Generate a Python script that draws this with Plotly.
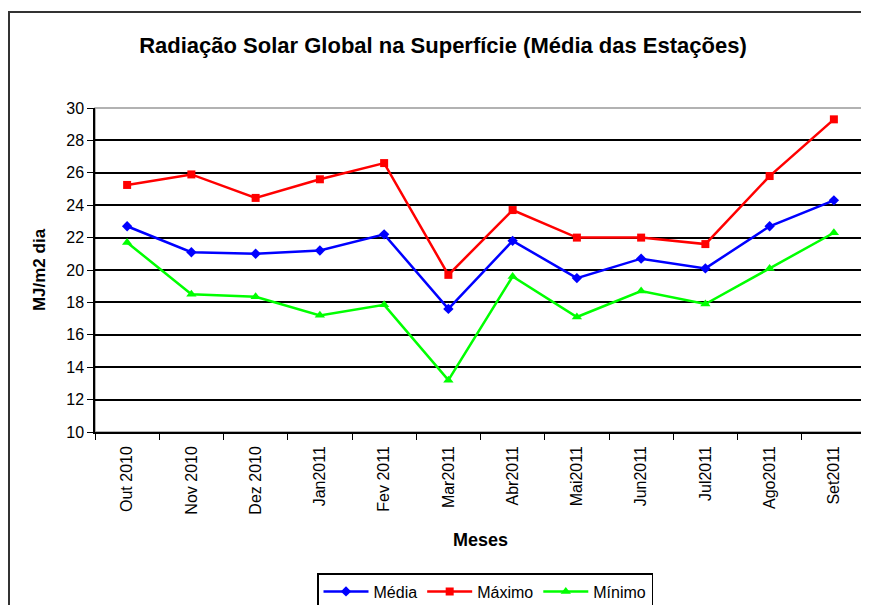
import plotly.graph_objects as go

# Monthly categories
meses = ["Out 2010", "Nov 2010", "Dez 2010", "Jan2011", "Fev 2011", "Mar2011",
         "Abr2011", "Mai2011", "Jun2011", "Jul2011", "Ago2011", "Set2011"]

# MJ/m2 dia
media = [22.7, 21.1, 21.0, 21.2, 22.2, 17.6, 21.8, 19.5, 20.7, 20.1, 22.7, 24.3]
maximo = [25.25, 25.9, 24.45, 25.6, 26.6, 19.7, 23.7, 22.0, 22.0, 21.6, 25.8, 29.3]
minimo = [21.7, 18.5, 18.35, 17.2, 17.85, 13.2, 19.6, 17.1, 18.7, 17.9, 20.1, 22.3]

FONT = "Arial, Liberation Sans, sans-serif"

# the page body adds an 8px offset, so the layout is shifted to compensate
L, T, R, B = 87, 100, 11, 181
PW, PH = 869 - L - R, 605 - T - B

fig = go.Figure()

fig.add_trace(go.Scatter(
    x=meses, y=media, name="Média", mode="lines+markers",
    line=dict(color="#0000ff", width=2.5),
    marker=dict(symbol="diamond", size=8, color="#0000ff"),
))
fig.add_trace(go.Scatter(
    x=meses, y=maximo, name="Máximo", mode="lines+markers",
    line=dict(color="#ff0000", width=2.5),
    marker=dict(symbol="square", size=8, color="#ff0000"),
))
fig.add_trace(go.Scatter(
    x=meses, y=minimo, name="Mínimo", mode="lines+markers",
    line=dict(color="#00ff00", width=2.5),
    marker=dict(symbol="triangle-up", size=9, color="#00ff00"),
))

fig.update_layout(
    width=869, height=605,
    paper_bgcolor="white", plot_bgcolor="white",
    font=dict(family=FONT, size=14, color="black"),
    margin=dict(l=L, r=R, t=T, b=B, autoexpand=False),
    title=dict(
        text="<b>Radiação Solar Global na Superfície (Média das Estações)</b>",
        x=(435 - L) / PW, xref="paper", xanchor="center",
        y=1 - 37 / 605, yanchor="middle",
        font=dict(size=22, family=FONT),
    ),
    showlegend=True,
    legend=dict(
        orientation="h", x=(477 - L) / PW, xanchor="center",
        y=(PH + T - 565) / PH, yanchor="top",
        bordercolor="black", borderwidth=1.5, font=dict(size=16),
        itemwidth=45, tracegroupgap=0,
    ),
    xaxis=dict(
        title=dict(text="<b>Meses</b>", font=dict(size=18), standoff=20),
        range=[-0.5, len(meses) - 0.5],
        tickangle=-90, tickson="boundaries", ticks="outside", ticklen=6,
        tickcolor="black", showline=True, linecolor="black", linewidth=1.5,
        showgrid=False, tickfont=dict(size=16), ticklabelstandoff=6,
    ),
    yaxis=dict(
        title=dict(text="<b>MJ/m2 dia</b>", font=dict(size=17), standoff=16),
        range=[10, 30], dtick=2, ticks="outside", ticklen=6, tickcolor="black",
        showline=True, linecolor="black", linewidth=1.5,
        showgrid=True, gridcolor="black", gridwidth=1.5,
        tickfont=dict(size=16), zeroline=False,
    ),
)

# plot area border (grey) and outer chart border
fig.add_shape(type="rect", xref="paper", yref="paper", x0=0, x1=1, y0=0, y1=1,
              line=dict(color="#999999", width=1.5), layer="below")
fig.add_shape(type="rect", xref="paper", yref="paper",
              x0=(1 - L) / PW, x1=1.03, y0=-0.7, y1=(PH + T - 4) / PH,
              line=dict(color="#333333", width=2))

fig.write_html("out.html")
